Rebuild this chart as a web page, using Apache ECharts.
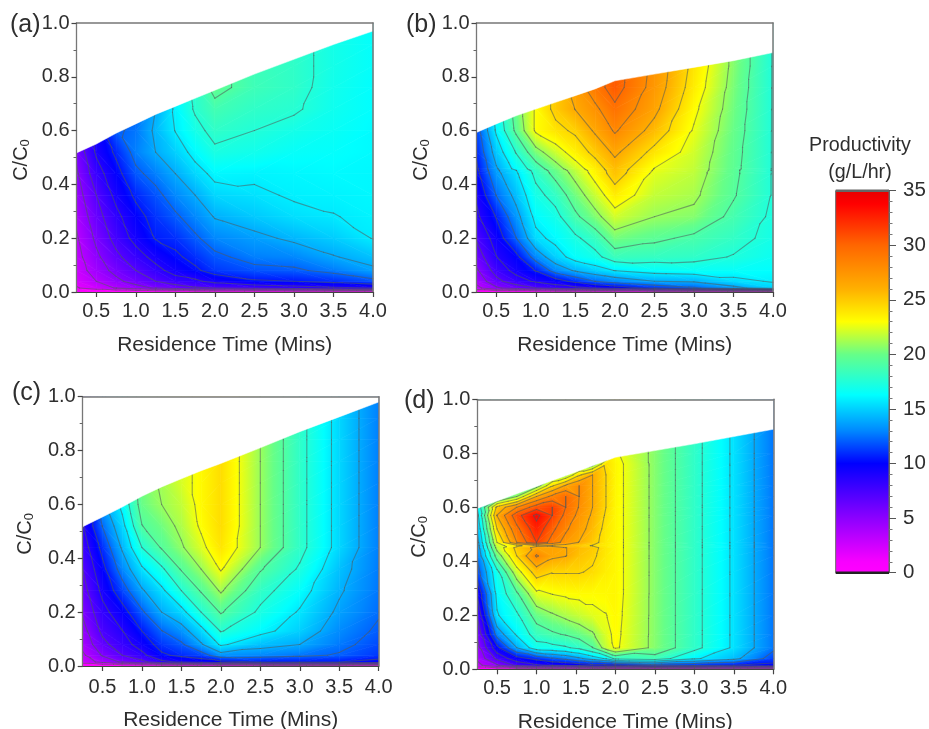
<!DOCTYPE html>
<html>
<head>
<meta charset="utf-8">
<style>html,body{margin:0;padding:0;background:#fff}#c{width:929px;height:729px}</style>
<script src="https://cdn.jsdelivr.net/npm/echarts@6/dist/echarts.min.js"></script>
</head>
<body>
<div id="c"></div>
<script>
const xTickValues = [0.5, 1, 1.5, 2, 2.5, 3, 3.5, 4];
const residenceTimes = [0.25, 0.5, 0.75, 1, 1.25, 1.5, 1.75, 2, 2.5, 3, 3.5, 4];
const residenceTimesD = [0.25, 0.5, 0.75, 1, 1.2, 1.37, 1.54, 1.71, 1.88, 2, 2.5, 3, 3.5, 4];
const ratioRows = [0, .015, .04, .08, .13, .2, .28, .36, .44, .52, .6, .68, .76, .84, .92, 1];
const ratioRowsB = [0, .015, .04, .08, .13, .2, .28, .36, .44, .452, .458, .52, .6, .68, .76, .84, .92, 1];
const ratioRowsD = [0, .015, .04, .08, .13, .2, .28, .36, .42, .45, .458, .47, .52, .57, .6, .64, .68, .72, .76, .8, .9, 1];
const colorValues = [0, 1, 5, 10, 13, 16.3, 20, 23, 26, 30, 33.8, 35];
const colorStops = ['#ff00ff', '#f800ff', '#8c00ff', '#0000ff', '#0088ff', '#00ffff', '#66ff88', '#ffff00', '#ffb000', '#ff6600', '#ff0000', '#e80000'];

// upper limit of the measured region, one value per residence time
const topA = [.517, .55, .59, .625, .66, .69, .72, .75, .81, .865, .92, .97];
const topB = [.593, .625, .655, .68, .705, .73, .755, .785, .81, .835, .86, .89];
const topC = [.517, .553, .59, .63, .665, .695, .725, .752, .81, .87, .925, .98];
const topD = [.596, .623, .65, .677, .699, .717, .735, .754, .772, .785, .81, .835, .862, .889];

// productivity: one list per residence time, one value per row
const valuesA = [
  [0,1.6,2.2,2.6,2.9,3.3,3.8,4.4,5,5.6,6],
  [0,2.6,3.5,4.3,4.9,5.6,6.3,7,8,9,9.5],
  [0,3.6,4.8,5.8,6.6,7.6,8.3,9.2,9.9,10.8,12],
  [0,4.5,6,7,8,9.3,9.9,10.8,11.9,12.8,12.6,12],
  [0,5.5,7,8.2,9.3,10.6,11.1,11.8,12.8,14,14.3,14],
  [0,6,8,9.4,10.2,11,12,13,14,15,15.8,16],
  [0,6.8,8.4,10.2,11,12,13,14,15.2,16.2,17,17.7,18],
  [0,7,9.3,11.2,11.9,13,14.1,15.2,16.1,17.2,18,18.7,19.8,19.8],
  [0,7.5,10.3,11.8,12.8,13.6,14.8,15.5,16,16.9,17.5,18,18.5,18.5],
  [0,8,10.5,12,13,14.3,15.4,15.9,16.1,16.5,17,17.7,18,18,18],
  [0,8.5,11,12.7,13.9,14.9,15.7,16,16.2,16.4,16.6,16.8,16.9,17,17,17],
  [0,8.75,11.8,13.7,14.6,15.8,16,16.1,16.1,16.2,16.2,16.3,16.3,16.4,16.4,16.4]
];
const valuesB = [
  [0,3,4,5,6,7.2,8.4,9,10,10.1,10.2,10.8,11.5],
  [0,5,6.5,7.7,8.7,9.5,10.6,12.3,13.5,13.7,13.8,14.8,16,16.5],
  [0,6,8,9.3,10,12.2,13.4,14.5,15.5,15.7,16.3,17.6,19.6,20],
  [0,7,9,10.6,13,15.3,16.2,17,17.9,18.1,18.4,20.4,23,23],
  [0,7.8,9.7,13,15,16.2,17,18.1,19.8,20,20.3,22,24,25],
  [0,8.3,11,14.2,16.4,17.2,18.9,20.2,21.5,21.7,22,23.5,24.8,26.3,27],
  [0,8.8,12.3,15,17,18.3,20.5,21.9,23.3,23.4,23.6,25,26.5,27.6,29],
  [0,9.5,13,15.8,18.4,20.3,22.1,23.7,25.3,25.4,25.5,26.6,28.2,29.4,30.5,30.5],
  [0,11,14,16.4,18.2,19.6,21,21.8,22.4,22.6,22.7,24,25.6,26.7,27.3,27.5],
  [0,12,14.2,16.6,18,18.9,20.6,21.3,21.7,21.8,21.8,22.1,22.6,23.1,23.7,24],
  [0,13.5,15.3,16.5,17.4,18.1,18.8,19.4,19.6,19.6,19.7,19.8,20,20.2,20.4,20.6],
  [0,15,15.9,16.3,16.7,17,17.2,17.4]
];
const valuesC = [
  [0,2.6,3.2,4,4.6,5.5,6.3,7,7.8,8.6],
  [0,4,5.4,6.5,7.4,8.2,9.2,10,11,12.3,13.5],
  [0,5.5,7,8,8.7,9.8,11.5,13,14.2,15.2,16.2,16.5],
  [0,6.5,8.3,9.5,10.5,12,13.8,15.5,17.5,19.2,20,20.3],
  [0,8.3,10.2,11.2,12.2,14,15.4,17.2,19.4,20.2,21,21.2],
  [0,9,10.9,12,13.3,15.2,17.5,19.4,20.8,21.4,21.8,22.2],
  [0,9.5,11.5,13.8,15.2,17.5,19.4,21,22.3,23,23.2],
  [0,10,13.3,16,17.6,19.4,21.2,22.9,24,24.3],
  [0,10.5,13,14.6,16.2,17.2,18.1,19.4,21],
  [0,10.5,12.6,14,15,15.6,16.4,17.3,18],
  [0,10.5,12.1,12.7,13.1,13.7,14.2,14.6,15.2],
  [0,10,11.2,11.6,12,12.4,12.6,12.7,12.8]
];
const valuesD = [
  [0,3,3.8,4.6,5.6,7.2,9,11.5,12.6,13.1,13.2,13.4,14.3,15.2,16,16.5],
  [0,5,7.5,10,13,15.6,16.2,17,20,21.6,22,22.75,24.5,26.3,25,18],
  [0,7.5,9.8,14,16,17.2,19,22,24.5,25,24,28,29.3,30.8,28,21,19],
  [0,8.5,11,16.8,18.3,20,22.4,25.3,28.2,26.8,25.9,31.5,32.6,33.7,30.7,26.25,20,19],
  [0,9,12,17,19,20.8,22.8,24.6,26.6,26.7,26,29,30.2,31.5,31.5,28.5,24.3,20],
  [0,9.2,12.7,17.3,19.4,21.4,23,24.6,26.3,26.3,25.7,27.3,28.3,29.3,29.75,29.75,26.5,21],
  [0,9.6,13.7,17.9,20,21.9,23.1,24.6,25.3,25.6,25,26.2,26.9,27.5,27.9,28,28,24.2,20],
  [0,10,14.8,19.2,20.8,22.4,23.1,24.3,24.8,25,24.4,25.1,25.6,26,26.25,26.25,26.25,26.25,20],
  [0,10,16,21.8,22.3,22.7,23.2,23.6,23.8,23.9,23.7,23.8,24,24.3,24.5,24.5,24.5,24.5,24.2,20],
  [0,10,18,23,23.1,23.2,23.3,23.3,23.3,23.3,23.3,23.3,23.3,23.3,23.3,23.3,23.3,23.3,23.3,23],
  [0,11.5,18.5,20.6],
  [0,11,16,18],
  [0,10.5,14.5,15.5],
  [0,10,11.5,12.6]
];
const panelLabels = ['(a)', '(b)', '(c)', '(d)'];
const contourStep = 1.75;
const FONT = '"Liberation Sans", Arial, sans-serif';
const TEXT = '#2e2e2e';
const FRAME = '#777';

const panels = [
  {label: panelLabels[0], xs: residenceTimes, values: valuesA, rows: ratioRows, top: topA, box: [76.5, 23, 296.5, 269], lab: [10, 13], xGap: 42.5, yGap: 45, tickGap: 9},
  {label: panelLabels[1], xs: residenceTimes, values: valuesB, rows: ratioRowsB, top: topB, box: [476.5, 23, 296.5, 269], lab: [406, 13], xGap: 42.5, yGap: 45, tickGap: 9},
  {label: panelLabels[2], xs: residenceTimes, values: valuesC, rows: ratioRows, top: topC, box: [82.7, 396.7, 296, 269.3], lab: [12, 381], xGap: 43.5, yGap: 47, tickGap: 11},
  {label: panelLabels[3], xs: residenceTimesD, values: valuesD, rows: ratioRowsD, top: topD, box: [477.3, 399.3, 296, 270], lab: [404, 389], xGap: 42.5, yGap: 47, tickGap: 9}
];
const barBox = [835.7, 190.7, 53.3, 382];

function hex(c) { return [1, 3, 5].map(i => parseInt(c.substr(i, 2), 16)); }
const rgbStops = colorStops.map(hex);
function colorOf(v) {
  v = Math.max(0, Math.min(35, v));
  let i = 0;
  while (i < colorValues.length - 2 && v > colorValues[i + 1]) i++;
  const t = (v - colorValues[i]) / (colorValues[i + 1] - colorValues[i]);
  const a = rgbStops[i], b = rgbStops[i + 1];
  return 'rgb(' + a.map((q, k) => Math.round(q + (b[k] - q) * t)).join(',') + ')';
}
function gradientStops(lo, hi) {
  const vals = [lo].concat(colorValues.filter(v => v > lo && v < hi), [hi]);
  return vals.map(v => ({offset: (v - lo) / (hi - lo), color: colorOf(v)}));
}

// triangles over the grid nodes of a panel
function triangles(p) {
  const node = (i, j) => {
    const col = p.values[i];
    return [p.xs[i], p.rows[j], j < col.length ? col[j] : col[col.length - 1]];
  };
  const out = [];
  for (let i = 0; i < p.xs.length - 1; i++) {
    for (let j = 0; j < p.rows.length - 1; j++) {
      const a = node(i, j), b = node(i + 1, j), c = node(i + 1, j + 1), d = node(i, j + 1);
      if (Math.abs(a[2] - c[2]) <= Math.abs(b[2] - d[2])) out.push([a, b, c], [a, c, d]);
      else out.push([a, b, d], [b, c, d]);
    }
  }
  return out;
}
// one triangle filled with the colour scale running along its value slope
function fillItem(tri, api) {
  const pts = tri.map(n => api.coord([n[0], n[1]]));
  const vs = tri.map(n => n[2]);
  const ax = pts[1][0] - pts[0][0], ay = pts[1][1] - pts[0][1];
  const bx = pts[2][0] - pts[0][0], by = pts[2][1] - pts[0][1];
  const da = vs[1] - vs[0], db = vs[2] - vs[0];
  const det = ax * by - ay * bx;
  const gx = (da * by - db * ay) / det, gy = (ax * db - bx * da) / det;
  const g2 = gx * gx + gy * gy;
  const lo = Math.min(...vs), hi = Math.max(...vs);
  let paint = colorOf(lo);
  if (hi - lo > 1e-6 && g2 > 0) {
    const s = pts[vs.indexOf(lo)];
    const k = (hi - lo) / g2;
    paint = new echarts.graphic.LinearGradient(s[0], s[1], s[0] + gx * k, s[1] + gy * k, gradientStops(lo, hi), true);
  }
  return {type: 'polygon', shape: {points: pts}, style: {fill: paint, stroke: paint, lineWidth: 0.7}};
}
function lineItem(tri, api) {
  const vs = tri.map(n => n[2]);
  const lo = Math.ceil(Math.min(...vs) / contourStep);
  const hi = Math.floor(Math.max(...vs) / contourStep);
  const children = [];
  for (let k = Math.max(lo, 1); k <= hi; k++) {
    const L = k * contourStep;
    const pts = [];
    for (let i = 0; i < 3; i++) {
      const p = tri[i], q = tri[(i + 1) % 3];
      if ((p[2] >= L) !== (q[2] >= L)) {
        const t = (L - p[2]) / (q[2] - p[2]);
        pts.push(api.coord([p[0] + (q[0] - p[0]) * t, p[1] + (q[1] - p[1]) * t]));
      }
    }
    if (pts.length === 2) {
      children.push({
        type: 'line',
        shape: {x1: pts[0][0], y1: pts[0][1], x2: pts[1][0], y2: pts[1][1]},
        style: {stroke: 'rgba(80,90,90,0.55)', lineWidth: 1.1, lineCap: 'round'}
      });
    }
  }
  return {type: 'group', children};
}

const grid = [], xAxis = [], yAxis = [], series = [], title = [];
panels.forEach((p, n) => {
  const [l, t, w, h] = p.box;
  grid.push({left: l, top: t, width: w, height: h, outerBoundsMode: 'none'});
  const xBase = {gridIndex: n, type: 'value', min: 0.25, max: 4, z: 10};
  xAxis.push(Object.assign({}, xBase, {
    position: 'bottom',
    name: 'Residence Time (Mins)', nameLocation: 'middle', nameGap: p.xGap,
    nameTextStyle: {fontFamily: FONT, fontSize: 21, color: TEXT},
    axisLine: {show: true, onZero: false, lineStyle: {color: '#444', width: 1.2}},
    axisTick: {show: true, length: 5, lineStyle: {color: '#444', width: 1.2}, customValues: xTickValues},
    axisLabel: {fontFamily: FONT, fontSize: 20, color: TEXT, margin: p.tickGap, customValues: xTickValues,
      formatter: v => Number(v).toFixed(1), hideOverlap: false, showMinLabel: true, showMaxLabel: true},
    splitLine: {show: false}
  }));
  xAxis.push(Object.assign({}, xBase, {
    position: 'top', axisLine: {show: true, onZero: false, lineStyle: {color: FRAME, width: 1.5}},
    axisTick: {show: false}, axisLabel: {show: false}, splitLine: {show: false}
  }));
  const yBase = {gridIndex: n, type: 'value', min: 0, max: 1, interval: 0.2, z: 10};
  yAxis.push(Object.assign({}, yBase, {
    position: 'left',
    name: 'C/C{sub|0}', nameLocation: 'middle', nameGap: p.yGap, nameRotate: 90,
    nameTextStyle: {fontFamily: FONT, fontSize: 20, color: TEXT, padding: [0, 5, 0, 0],
      rich: {sub: {fontFamily: FONT, fontSize: 13, color: TEXT, verticalAlign: 'bottom', padding: [8, 0, 0, 0]}}},
    axisLine: {show: true, onZero: false, lineStyle: {color: FRAME, width: 1.3}},
    axisTick: {show: true, length: 5, lineStyle: {color: '#444', width: 1.2}},
    minorTick: {show: true, splitNumber: 2, length: 3, lineStyle: {color: '#666', width: 1}},
    axisLabel: {fontFamily: FONT, fontSize: 20, color: TEXT, margin: 7, formatter: v => Number(v).toFixed(1)},
    splitLine: {show: false}, minorSplitLine: {show: false}
  }));
  yAxis.push(Object.assign({}, yBase, {
    position: 'right', axisLine: {show: true, onZero: false, lineStyle: {color: FRAME, width: 1.5}},
    axisTick: {show: false}, axisLabel: {show: false}, splitLine: {show: false}
  }));
  const tris = triangles(p);
  const data = tris.map((tr, i) => [(tr[0][0] + tr[1][0] + tr[2][0]) / 3, (tr[0][1] + tr[1][1] + tr[2][1]) / 3, i]);
  const common = {type: 'custom', coordinateSystem: 'cartesian2d', xAxisIndex: n * 2, yAxisIndex: n * 2,
    silent: true, animation: false, progressive: 0, clip: true, encode: {x: 0, y: 1}};
  series.push(Object.assign({}, common, {name: p.label + ' fill', z: 2, data,
    renderItem: (ps, api) => fillItem(tris[api.value(2)], api)}));
  series.push(Object.assign({}, common, {name: p.label + ' contours', z: 3, data,
    renderItem: (ps, api) => lineItem(tris[api.value(2)], api)}));
  // the region above the measured limit stays blank
  series.push(Object.assign({}, common, {name: p.label + ' limit', z: 4, data: [[2, 1]],
    renderItem: (ps, api) => ({
      type: 'polygon',
      shape: {points: p.xs.map((x, i) => api.coord([x, p.top[i]])).concat([api.coord([4, 1]), api.coord([0.25, 1])])},
      style: {fill: '#fff', stroke: '#fff', lineWidth: 0.5}
    })}));
  title.push({text: p.label, left: p.lab[0], top: p.lab[1], textStyle: {fontFamily: FONT, fontSize: 25, fontWeight: 'normal', color: TEXT}, padding: 0});
});

// colour bar
grid.push({left: barBox[0], top: barBox[1], width: barBox[2], height: barBox[3], outerBoundsMode: 'none'});
xAxis.push({gridIndex: 4, type: 'value', min: 0, max: 1, show: false});
yAxis.push({gridIndex: 4, type: 'value', min: 0, max: 35, interval: 5, position: 'right', z: 10,
  axisLine: {show: true, onZero: false, lineStyle: {color: '#666', width: 1}},
  axisTick: {show: true, length: 7, lineStyle: {color: '#555', width: 1}},
  minorTick: {show: true, splitNumber: 5, length: 3.5, lineStyle: {color: '#777', width: 1}},
  axisLabel: {fontFamily: FONT, fontSize: 20.5, color: TEXT, margin: 14},
  splitLine: {show: false}, minorSplitLine: {show: false}});
series.push({type: 'custom', coordinateSystem: 'cartesian2d', xAxisIndex: 8, yAxisIndex: 8, silent: true, animation: false,
  name: 'colour bar', z: 2, data: [[0, 0, 35]], encode: {x: 0, y: 1},
  renderItem: (ps, api) => {
    const a = api.coord([0, api.value(1)]), b = api.coord([1, api.value(2)]);
    return {type: 'rect', shape: {x: a[0], y: b[1], width: b[0] - a[0], height: a[1] - b[1]},
      style: {fill: new echarts.graphic.LinearGradient(0, a[1], 0, b[1], gradientStops(0, 35), true), stroke: '#666', lineWidth: 1}};
  }});
series.push({type: 'custom', coordinateSystem: 'cartesian2d', xAxisIndex: 8, yAxisIndex: 8, silent: true, animation: false,
  name: 'colour bar caps', z: 3, data: [[0, 0], [0, 35]], encode: {x: 0, y: 1},
  renderItem: (ps, api) => {
    const a = api.coord([0, api.value(1)]), b = api.coord([1, api.value(1)]);
    return {type: 'line', shape: {x1: a[0], y1: a[1], x2: b[0], y2: b[1]}, style: {stroke: ps.dataIndex ? '#666' : '#222', lineWidth: 2.5}};
  }});
title.push({text: 'Productivity\n(g/L/hr)', left: 860, top: 132, textAlign: 'center',
  textStyle: {fontFamily: FONT, fontSize: 19.7, fontWeight: 'normal', color: TEXT, lineHeight: 27, align: 'center'}, padding: 0});

const chart = echarts.init(document.getElementById('c'), null, {renderer: 'canvas'});
chart.setOption({animation: false, backgroundColor: '#fff', title, grid, xAxis, yAxis, series});
</script>
</body>
</html>
